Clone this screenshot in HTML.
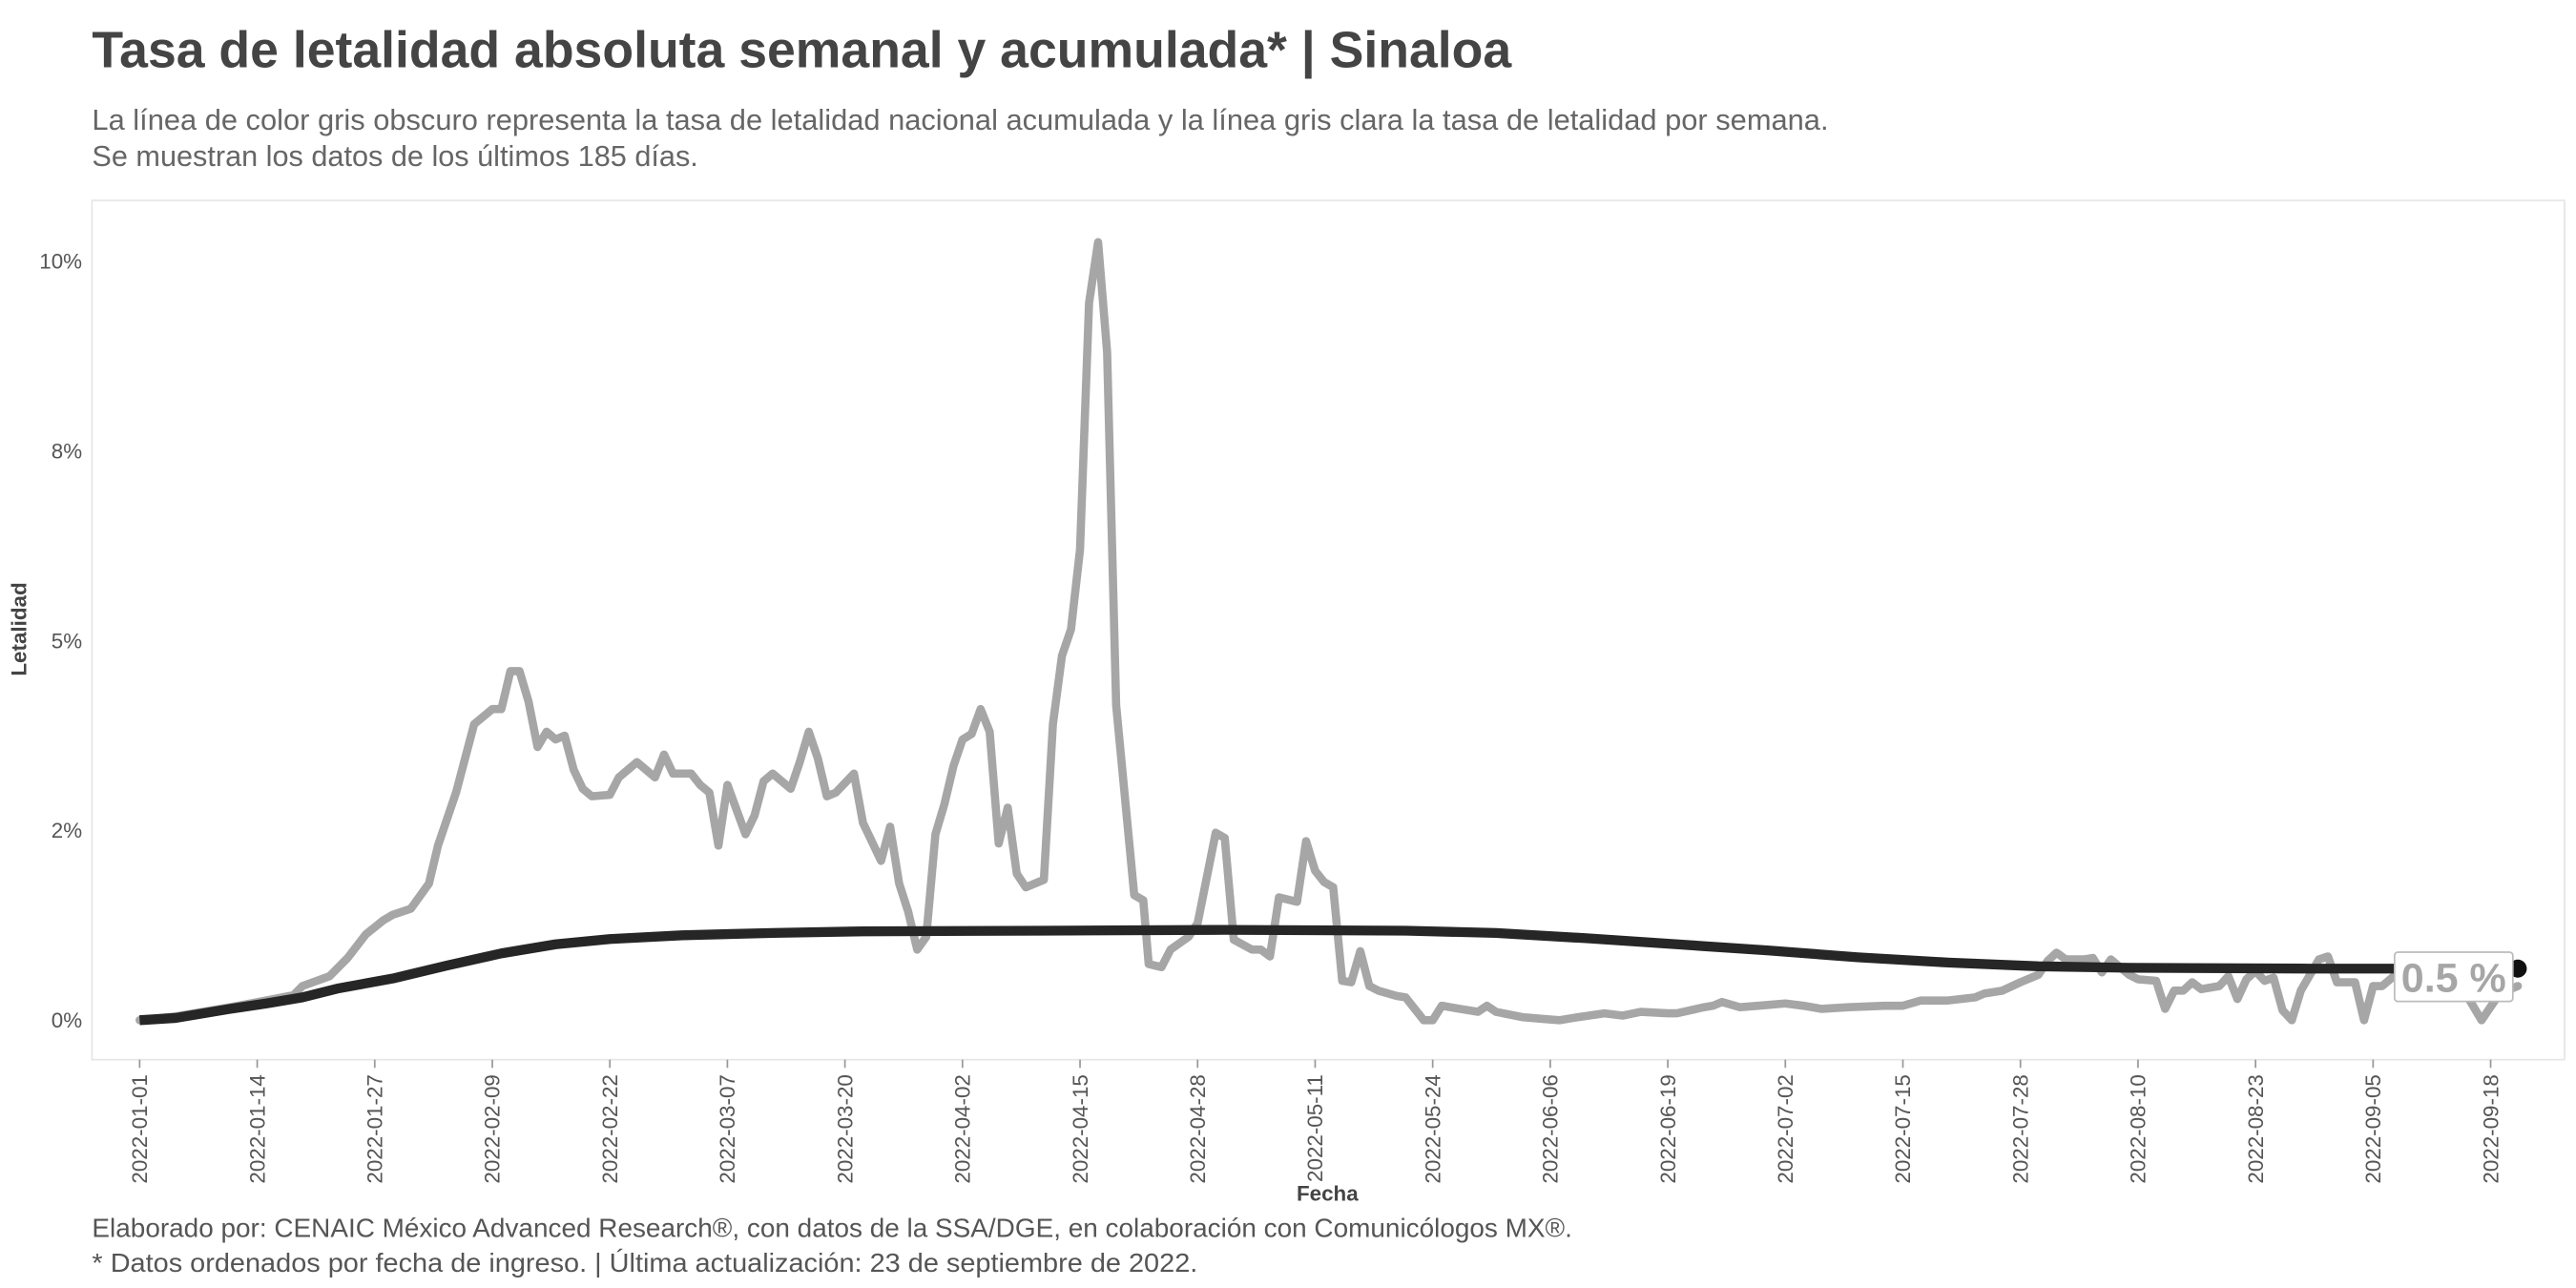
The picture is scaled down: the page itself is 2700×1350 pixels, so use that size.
<!DOCTYPE html>
<html><head><meta charset="utf-8">
<style>
html,body{margin:0;padding:0;background:#fff;}
svg{display:block;font-family:"Liberation Sans Narrow","Liberation Sans",sans-serif;}
</style></head>
<body>
<svg id="chart" width="2700" height="1350" viewBox="0 0 1568 784" xmlns="http://www.w3.org/2000/svg">
  <text x="56" y="41" font-size="31" font-weight="bold" fill="#444" textLength="864" lengthAdjust="spacingAndGlyphs">Tasa de letalidad absoluta semanal y acumulada* | Sinaloa</text>
  <text x="56" y="79" font-size="18" fill="#666" textLength="1057" lengthAdjust="spacingAndGlyphs">La línea de color gris obscuro representa la tasa de letalidad nacional acumulada y la línea gris clara la tasa de letalidad por semana.</text>
  <text x="56" y="101" font-size="18" fill="#666" textLength="369" lengthAdjust="spacingAndGlyphs">Se muestran los datos de los últimos 185 días.</text>
  <rect x="56" y="122" width="1505" height="523" fill="none" stroke="#e6e6e6" stroke-width="1"/>
  <g id="yticks"></g>
  <g id="xticks"></g>
  <g id="lines"></g>
  <text x="808" y="731" font-size="13" font-weight="bold" fill="#444" text-anchor="middle">Fecha</text>
  <text transform="translate(16,383) rotate(-90)" font-size="13" font-weight="bold" fill="#444" text-anchor="middle">Letalidad</text>
  <text x="56" y="753" font-size="16" fill="#555" textLength="901" lengthAdjust="spacingAndGlyphs">Elaborado por: CENAIC México Advanced Research®, con datos de la SSA/DGE, en colaboración con Comunicólogos MX®.</text>
  <text x="56" y="774" font-size="16" fill="#555" textLength="673" lengthAdjust="spacingAndGlyphs">* Datos ordenados por fecha de ingreso. | Última actualización: 23 de septiembre de 2022.</text>
</svg>
<script>
// Weekly lethality (light grey): day index from 2022-01-01 and value in %
const weeklyDays = [0,4,10,14,17,18,21,23,25,27,28,30,32,33,35,37,39,40,41,42,43,44,45,46,47,48,49,50,52,53,55,57,58,59,61,62,63,64,65,67,68,69,70,72,73,74,75,76,77,79,80,82,83,84,85,86,87,88,89,90,91,92,93,94,95,96,97,98,100,101,102,103,104,105,106,107,108,110,111,111.6,113,114,116,117,119,120,121,123,124,125,126,128,129,130,131,132,133,134,135,136,137,139,140,142,143,144,146,148,149,150,153,155,157,159,162,164,166,169,170,173,174,175,177,179,182,184,186,189,193,195,197,200,203,204,206,208,210,211,212,213,215,216,217,218,220,221,223,224,225,226,227,228,230,231,232,233,234,235,236,237,238,239,241,242,243,245,246,247,248,251,253,254,256,259,261,263];
const weeklyVals = [0,0.05,0.17,0.26,0.33,0.45,0.58,0.82,1.13,1.32,1.39,1.47,1.8,2.3,3.0,3.9,4.1,4.1,4.6,4.6,4.2,3.6,3.8,3.7,3.75,3.3,3.05,2.95,2.97,3.2,3.4,3.2,3.5,3.25,3.25,3.1,3.0,2.3,3.1,2.45,2.7,3.15,3.25,3.05,3.4,3.8,3.45,2.95,3.0,3.25,2.6,2.1,2.55,1.8,1.43,0.93,1.1,2.45,2.85,3.35,3.7,3.77,4.1,3.8,2.33,2.8,1.93,1.75,1.85,3.9,4.8,5.15,6.2,9.45,10.25,8.8,4.15,1.65,1.58,0.74,0.7,0.93,1.1,1.28,2.47,2.4,1.06,0.93,0.93,0.84,1.62,1.56,2.36,1.97,1.82,1.75,0.52,0.5,0.91,0.45,0.39,0.32,0.3,0,0,0.19,0.15,0.11,0.19,0.11,0.04,0.02,0,0.04,0.09,0.06,0.11,0.09,0.09,0.17,0.19,0.24,0.17,0.19,0.22,0.19,0.15,0.17,0.19,0.19,0.26,0.26,0.3,0.35,0.39,0.5,0.6,0.78,0.89,0.8,0.8,0.82,0.63,0.8,0.6,0.54,0.52,0.15,0.39,0.39,0.5,0.41,0.45,0.58,0.28,0.54,0.65,0.52,0.56,0.13,0,0.39,0.8,0.84,0.5,0.5,0,0.45,0.45,0.75,0.8,0.5,0.6,0,0.35,0.45];
// Cumulative lethality (dark)
const cumDays = [0,4,10,14,18,22,28,34,40,46,52,60,70,80,100,120,140,150,160,170,180,190,200,210,220,240,263];
const cumVals = [0,0.03,0.15,0.22,0.3,0.42,0.55,0.72,0.88,1.0,1.07,1.12,1.15,1.17,1.18,1.19,1.18,1.15,1.08,1.0,0.92,0.83,0.76,0.71,0.69,0.68,0.68];
const yTickVals = [0,2.5,5,7.5,10];
const yTickLabels = ["0%","2%","5%","8%","10%"];
const xTickLabels = ["2022-01-01","2022-01-14","2022-01-27","2022-02-09","2022-02-22","2022-03-07","2022-03-20","2022-04-02","2022-04-15","2022-04-28","2022-05-11","2022-05-24","2022-06-06","2022-06-19","2022-07-02","2022-07-15","2022-07-28","2022-08-10","2022-08-23","2022-09-05","2022-09-18"];
const lastLabel = "0.5 %";

const NS = "http://www.w3.org/2000/svg";
function xs(d){ return 85 + d*5.504; }
function ys(v){ return 621 - v*46.2; }
function dayOf(s){ const t = Date.UTC(+s.slice(0,4), +s.slice(5,7)-1, +s.slice(8,10)); return (t - Date.UTC(2022,0,1))/86400000; }
function mk(tag, attrs){ const e = document.createElementNS(NS, tag); for (const k in attrs) e.setAttribute(k, attrs[k]); return e; }

const yg = document.getElementById('yticks');
yTickVals.forEach((v,i)=>{
  const t = mk('text',{x:50, y:ys(v)+4.5, 'font-size':13, fill:'#555', 'text-anchor':'end'});
  
  
  t.textContent = yTickLabels[i];
  yg.appendChild(t);
});
const xg = document.getElementById('xticks');
xTickLabels.forEach(s=>{
  const x = xs(dayOf(s));
  const tk = mk('line',{x1:x, x2:x, y1:645, y2:650, stroke:'#999', 'stroke-width':1});
  
  
  xg.appendChild(tk);
  const t = mk('text',{transform:`translate(${x+4.5},654) rotate(-90)`, 'font-size':13, fill:'#555', 'text-anchor':'end'});
  
  
  t.textContent = s;
  xg.appendChild(t);
});
const lg = document.getElementById('lines');
const wp = mk('path',{d: weeklyDays.map((d,i)=>(i?'L':'M')+xs(d).toFixed(1)+','+ys(weeklyVals[i]).toFixed(1)).join(''), fill:'none', stroke:'#a6a6a6', 'stroke-width':5, 'stroke-linejoin':'round', 'stroke-linecap':'round'});


lg.appendChild(wp);
const cp = mk('path',{d: cumDays.map((d,i)=>(i?'L':'M')+xs(d).toFixed(1)+','+ys(cumVals[i]).toFixed(1)).join(''), fill:'none', stroke:'#262626', 'stroke-width':6, 'stroke-linejoin':'round'});


lg.appendChild(cp);
const lastD = cumDays[cumDays.length-1], lastV = cumVals[cumVals.length-1];
const dot = mk('circle',{cx:xs(lastD), cy:ys(lastV), r:5.5, fill:'#111'});


lg.appendChild(dot);
const bx = mk('rect',{x:xs(lastD)-75, y:ys(lastV)-10, width:72, height:30, rx:2, fill:'#fff', stroke:'#bbb', 'stroke-width':1});


lg.appendChild(bx);
const lt = mk('text',{x:xs(lastD)-39, y:ys(lastV)+14, 'font-size':25, 'font-weight':'bold', fill:'#a6a6a6', 'text-anchor':'middle'});


lt.textContent = lastLabel;
lg.appendChild(lt);
</script>
</body></html>
